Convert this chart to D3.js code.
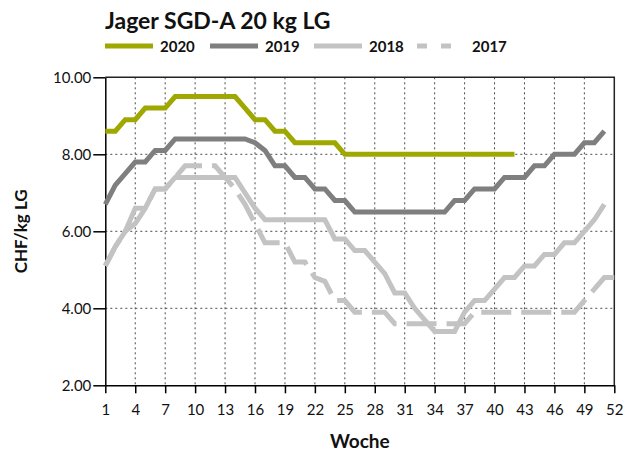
<!DOCTYPE html>
<html lang="de">
  <head>
    <meta charset="UTF-8">
    <script src="https://cdn.jsdelivr.net/npm/d3@7"></script>
    <style>
      body { margin: 0; background: #fff; }
      text { font-family: Lato, "Open Sans", sans-serif; }
    </style>
    <title>Jager SGD-A 20 kg LG</title>
  </head>
  <body>
    <script>
      // Preise Jager SGD-A 20 kg LG, CHF/kg LG pro Woche

      let weeks = d3.range(1, 53);
      let xTicks = [1, 4, 7, 10, 13, 16, 19, 22, 25, 28, 31, 34, 37, 40, 43, 46, 49, 52];
      let yTicks = [2, 4, 6, 8, 10];

      let v2020 = [8.6, 8.6, 8.9, 8.9, 9.2, 9.2, 9.2, 9.5, 9.5, 9.5, 9.5, 9.5, 9.5, 9.5,
                   9.2, 8.9, 8.9, 8.6, 8.6, 8.3, 8.3, 8.3, 8.3, 8.3,
                   8.0, 8.0, 8.0, 8.0, 8.0, 8.0, 8.0, 8.0, 8.0, 8.0, 8.0, 8.0, 8.0, 8.0,
                   8.0, 8.0, 8.0, 8.0];

      let v2019 = [6.7, 7.2, 7.5, 7.8, 7.8, 8.1, 8.1, 8.4, 8.4, 8.4, 8.4, 8.4, 8.4, 8.4,
                   8.4, 8.3, 8.1, 7.7, 7.7, 7.4, 7.4, 7.1, 7.1, 6.8, 6.8,
                   6.5, 6.5, 6.5, 6.5, 6.5, 6.5, 6.5, 6.5, 6.5, 6.5,
                   6.8, 6.8, 7.1, 7.1, 7.1, 7.4, 7.4, 7.4, 7.7, 7.7, 8.0, 8.0, 8.0,
                   8.3, 8.3, 8.6];

      let v2018 = [5.1, 5.6, 6.0, 6.6, 6.6, 7.1, 7.1, 7.4, 7.4, 7.4, 7.4, 7.4, 7.4, 7.4,
                   7.0, 6.6, 6.3, 6.3, 6.3, 6.3, 6.3, 6.3, 6.3, 5.8, 5.8, 5.5, 5.5,
                   5.2, 4.9, 4.4, 4.4, 4.0, 3.7, 3.4, 3.4, 3.4, 3.9, 4.2, 4.2, 4.5,
                   4.8, 4.8, 5.1, 5.1, 5.4, 5.4, 5.7, 5.7, 6.0, 6.3, 6.7];

      let v2017 = [5.1, 5.6, 6.0, 6.2, 6.6, 7.1, 7.1, 7.4, 7.7, 7.7, 7.7, 7.7, 7.4, 7.1,
                   6.7, 6.2, 5.7, 5.7, 5.7, 5.2, 5.2, 4.8, 4.7, 4.2, 4.2,
                   3.9, 3.9, 3.9, 3.9, 3.6, 3.6, 3.6, 3.6, 3.6, 3.6, 3.6, 3.6,
                   3.9, 3.9, 3.9, 3.9, 3.9, 3.9, 3.9, 3.9, 3.9, 3.9, 3.9,
                   4.2, 4.5, 4.8, 4.8];

      let seriesNames = ['2020', '2019', '2018', '2017'];

      let w = 638;
      let h = 457;
      let plotLeft = 105.3, plotRight = 614.3, plotTop = 77.3, plotBottom = 385.3;

      let svg = d3.select('body')
                  .append('svg')
                  .attr('width', w)
                  .attr('height', h);

      let xScale = d3.scaleLinear()
                      .domain([1, 52])
                      .range([plotLeft, plotRight]);

      let yScale = d3.scaleLinear()
                      .domain([2, 10])
                      .range([plotBottom, plotTop]);

      // Gitterlinien (gepunktet)
      svg.append('g')
          .selectAll('line')
          .data(xTicks.slice(1, -1))
          .enter()
          .append('line')
          .attr('x1', d => xScale(d))
          .attr('x2', d => xScale(d))
          .attr('y1', plotTop)
          .attr('y2', plotBottom)
          .attr('stroke', '#4a4a4a')
          .attr('stroke-width', 1)
          .attr('stroke-dasharray', '2,3');

      svg.append('g')
          .selectAll('line')
          .data(yTicks.slice(1, -1))
          .enter()
          .append('line')
          .attr('x1', plotLeft)
          .attr('x2', plotRight)
          .attr('y1', d => yScale(d))
          .attr('y2', d => yScale(d))
          .attr('stroke', '#4a4a4a')
          .attr('stroke-width', 1)
          .attr('stroke-dasharray', '2,3');

      // Rahmen oben und rechts
      svg.append('path')
          .attr('d', `M${plotLeft},${plotTop}H${plotRight}V${plotBottom}`)
          .attr('fill', 'none')
          .attr('stroke', '#222')
          .attr('stroke-width', 1.5);

      // Achsen
      let xAxis = svg.append('g')
          .attr('transform', `translate(0,${plotBottom})`)
          .call(d3.axisBottom(xScale).tickValues(xTicks).tickSize(8).tickSizeOuter(0).tickPadding(11));

      let yAxis = svg.append('g')
          .attr('transform', `translate(${plotLeft},0)`)
          .call(d3.axisLeft(yScale).tickValues(yTicks).tickSize(12).tickSizeOuter(0)
                .tickPadding(2).tickFormat(d3.format('.2f')));

      [xAxis, yAxis].forEach(a => {
        a.select('.domain').attr('stroke', '#000').attr('stroke-width', 1.5);
        a.selectAll('.tick line').attr('stroke', '#000').attr('stroke-width', 1.5);
        a.selectAll('.tick text')
          .attr('fill', '#111')
          .attr('font-size', '15px')
          .attr('font-family', 'Lato, sans-serif');
      });

      // Linien
      let lineGen = d3.line()
                      .x((d, i) => xScale(weeks[i]))
                      .y(d => yScale(d));

      let series = [
        { name: '2017', values: v2017, color: '#c3c3c3', dash: '30,10' },
        { name: '2018', values: v2018, color: '#c3c3c3', dash: null },
        { name: '2019', values: v2019, color: '#7f7f7f', dash: null },
        { name: '2020', values: v2020, color: '#9ea800', dash: null }
      ];

      svg.append('g')
          .selectAll('path')
          .data(series)
          .enter()
          .append('path')
          .attr('d', d => lineGen(d.values))
          .attr('fill', 'none')
          .attr('stroke', d => d.color)
          .attr('stroke-width', 5)
          .attr('stroke-dasharray', d => d.dash);

      // Titel
      svg.append('text')
          .text('Jager SGD-A 20 kg LG')
          .attr('x', 105)
          .attr('y', 29)
          .attr('font-size', '23px')
          .attr('font-weight', 'bold')
          .attr('fill', '#111');

      // Legende
      let legendX = [105, 210, 314, 417];
      let legendColors = { '2020': '#9ea800', '2019': '#7f7f7f', '2018': '#c3c3c3', '2017': '#c3c3c3' };
      let legend = svg.append('g')
          .selectAll('g')
          .data(seriesNames)
          .enter()
          .append('g')
          .attr('transform', (d, i) => `translate(${legendX[i]},46)`);

      legend.append('line')
          .attr('x1', 0)
          .attr('x2', (d, i) => i === 3 ? 36 : 48)
          .attr('stroke', d => legendColors[d])
          .attr('stroke-width', 5)
          .attr('stroke-dasharray', (d, i) => i === 3 ? '10,14' : null);

      legend.append('text')
          .text(d => d)
          .attr('x', 55)
          .attr('y', 5.5)
          .attr('font-size', '15px')
          .attr('font-weight', 'bold')
          .attr('fill', '#111');

      // Achsentitel
      svg.append('text')
          .text('Woche')
          .attr('x', (plotLeft + plotRight) / 2 + 0)
          .attr('y', 448)
          .attr('text-anchor', 'middle')
          .attr('font-size', '19px')
          .attr('font-weight', 'bold')
          .attr('fill', '#111');

      svg.append('text')
          .text('CHF/kg LG')
          .attr('transform', `translate(27,${(plotTop + plotBottom) / 2}) rotate(-90)`)
          .attr('text-anchor', 'middle')
          .attr('font-size', '17px')
          .attr('font-weight', 'bold')
          .attr('fill', '#111');
    </script>
  </body>
</html>
